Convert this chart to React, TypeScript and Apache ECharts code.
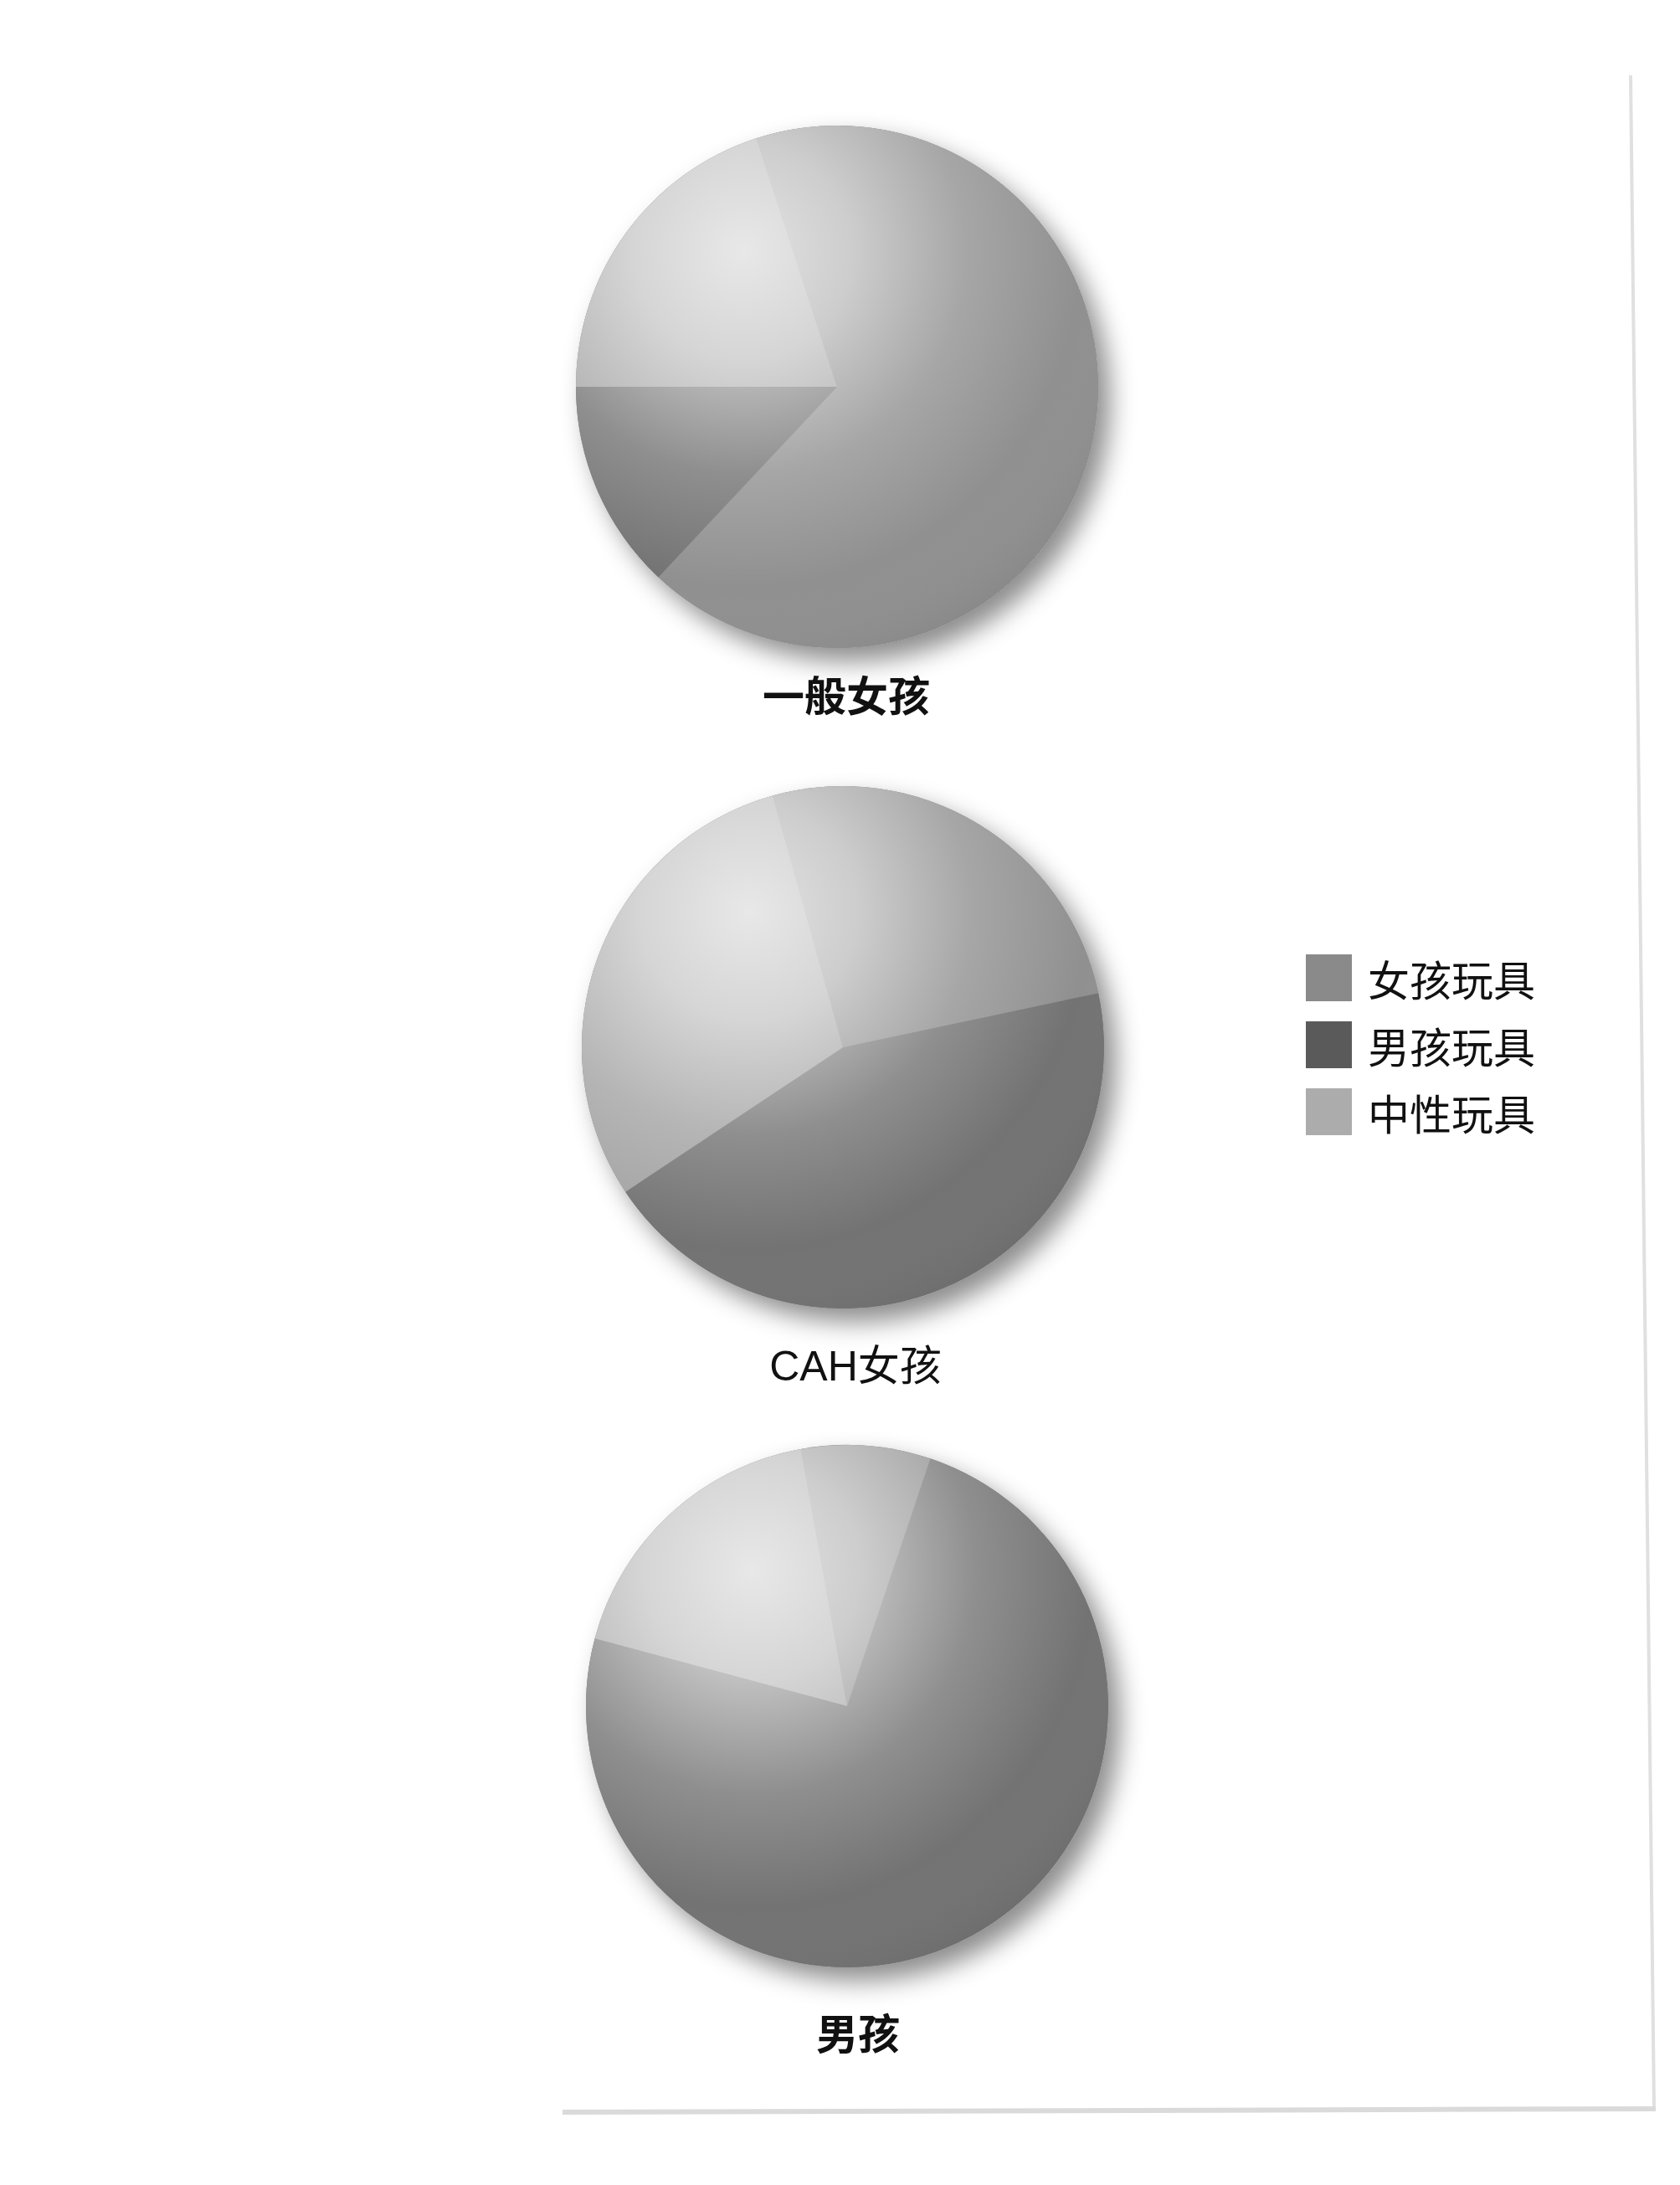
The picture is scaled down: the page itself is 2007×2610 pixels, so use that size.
import React, { useEffect, useRef } from "react";
import * as echarts from "echarts";

// ---- data (percent of play time) ----
const categories = ["女孩玩具", "男孩玩具", "中性玩具"];
const groups = ["一般女孩", "CAH女孩", "男孩"];
const girlToys = [67, 26, 8];
const boyToys = [13, 44, 74];
const neutralToys = [20, 30, 18];

// ---- layout / style ----
const categoryColors: Record<string, string> = {
  "女孩玩具": "#909090",
  "男孩玩具": "#737373",
  "中性玩具": "#a3a3a3",
};
const legendColors: Record<string, string> = {
  "女孩玩具": "#8a8a8a",
  "男孩玩具": "#5a5a5a",
  "中性玩具": "#acacac",
};
const pieLayout = [
  { center: [1000, 462], start: 180, order: ["中性玩具", "女孩玩具", "男孩玩具"], title: [1011, 808], bold: true },
  { center: [1007, 1251], start: 12, order: ["男孩玩具", "中性玩具", "女孩玩具"], title: [1022, 1607], bold: false },
  { center: [1012, 2038], start: 165, order: ["中性玩具", "女孩玩具", "男孩玩具"], title: [1025, 2406], bold: true },
];
const RADIUS = 312;

function valueOf(cat: string, i: number) {
  if (cat === "女孩玩具") return girlToys[i];
  if (cat === "男孩玩具") return boyToys[i];
  return neutralToys[i];
}

export default function App() {
  const ref = useRef<HTMLDivElement>(null);
  useEffect(() => {
    if (!ref.current) return;
    const chart = echarts.init(ref.current, undefined, { renderer: "svg" });
    const series: any[] = [];
    groups.forEach((g, i) => {
      const L = pieLayout[i];
      series.push({
        type: "pie",
        name: g + "-shadow",
        center: L.center,
        radius: RADIUS,
        silent: true,
        z: 1,
        label: { show: false },
        labelLine: { show: false },
        emphasis: { disabled: true },
        data: [{ value: 1, name: "" }],
        itemStyle: {
          color: "#8a8a8a",
          shadowBlur: 30,
          shadowColor: "rgba(0,0,0,0.45)",
          shadowOffsetX: 14,
          shadowOffsetY: 16,
        },
      });
      series.push({
        type: "pie",
        name: g,
        center: L.center,
        radius: RADIUS,
        startAngle: L.start,
        clockwise: true,
        z: 2,
        silent: true,
        label: { show: false },
        labelLine: { show: false },
        emphasis: { disabled: true },
        data: L.order.map((c) => ({
          name: c,
          value: valueOf(c, i),
          itemStyle: { color: categoryColors[c], borderWidth: 0 },
        })),
      });
      series.push({
        type: "pie",
        name: g + "-gloss",
        center: L.center,
        radius: RADIUS,
        silent: true,
        z: 3,
        label: { show: false },
        labelLine: { show: false },
        emphasis: { disabled: true },
        data: [{ value: 1, name: " " }],
        itemStyle: {
          borderWidth: 0,
          color: {
            type: "radial",
            x: 0.32,
            y: 0.24,
            r: 0.95,
            colorStops: [
              { offset: 0, color: "rgba(255,255,255,0.75)" },
              { offset: 0.22, color: "rgba(255,255,255,0.55)" },
              { offset: 0.45, color: "rgba(255,255,255,0.2)" },
              { offset: 0.68, color: "rgba(255,255,255,0)" },
              { offset: 0.88, color: "rgba(0,0,0,0.06)" },
              { offset: 1, color: "rgba(0,0,0,0.18)" },
            ],
          },
        },
      });
    });

    chart.setOption({
      animation: false,
      backgroundColor: "#ffffff",
      title: groups.map((g, i) => ({
        text: g,
        left: pieLayout[i].title[0],
        top: pieLayout[i].title[1],
        textAlign: "center",
        padding: 0,
        textStyle: {
          fontSize: 50,
          fontWeight: pieLayout[i].bold ? "bold" : "normal",
          fontFamily: "'Liberation Sans', 'Noto Sans CJK SC', sans-serif",
          color: "#111111",
        },
      })),
      legend: {
        data: categories.map((c) => ({ name: c, itemStyle: { color: legendColors[c] } })),
        orient: "vertical",
        left: 1555,
        top: 1135,
        itemWidth: 55,
        itemHeight: 56,
        itemGap: 24,
        icon: "rect",
        selectedMode: false,
        textStyle: {
          fontSize: 50,
          fontFamily: "'Noto Sans CJK SC', sans-serif",
          color: "#111111",
          padding: [0, 0, 0, 14],
        },
      },
      graphic: [
        {
          type: "line",
          silent: true,
          shape: { x1: 1948, y1: 90, x2: 1976, y2: 2518 },
          style: { stroke: "#e0e0e0", lineWidth: 4 },
        },
        {
          type: "line",
          silent: true,
          shape: { x1: 672, y1: 2523, x2: 1978, y2: 2519 },
          style: { stroke: "#dadada", lineWidth: 6 },
        },
      ],
      series,
    });
    return () => chart.dispose();
  }, []);
  return (
    <div
      ref={ref}
      style={{ position: "absolute", left: 0, top: 0, width: 2007, height: 2610 }}
    />
  );
}
